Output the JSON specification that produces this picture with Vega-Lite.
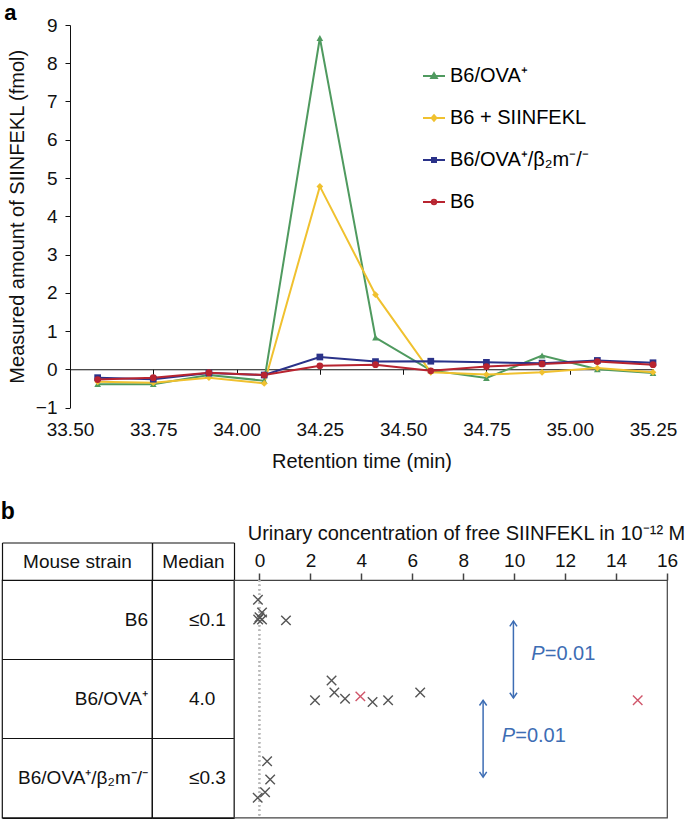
{
  "$schema": "https://vega.github.io/schema/vega-lite/v6.json",
  "padding": {"top": 1, "left": 0, "right": 0, "bottom": 0},
  "background": "white",
  "config": {
    "font": "Liberation Sans",
    "view": {"stroke": null},
    "concat": {"spacing": 0},
    "axis": {"labelColor": "#111", "titleColor": "#111", "domainColor": "#111", "tickColor": "#111", "titleFontWeight": "normal", "grid": false},
    "title": {"color": "#000"}
  },
  "resolve": {"scale": {"color": "independent", "shape": "independent"}, "legend": {"color": "independent", "shape": "independent"}},
  "datasets": {
    "chrom": [
      {"t": 33.583, "series": "B6/OVA⁺", "v": -0.39},
      {"t": 33.75, "series": "B6/OVA⁺", "v": -0.39},
      {"t": 33.917, "series": "B6/OVA⁺", "v": -0.15},
      {"t": 34.083, "series": "B6/OVA⁺", "v": -0.30},
      {"t": 34.25, "series": "B6/OVA⁺", "v": 8.66},
      {"t": 34.417, "series": "B6/OVA⁺", "v": 0.83},
      {"t": 34.583, "series": "B6/OVA⁺", "v": -0.03},
      {"t": 34.75, "series": "B6/OVA⁺", "v": -0.23},
      {"t": 34.917, "series": "B6/OVA⁺", "v": 0.36},
      {"t": 35.083, "series": "B6/OVA⁺", "v": 0.0},
      {"t": 35.25, "series": "B6/OVA⁺", "v": -0.10},
      {"t": 33.583, "series": "B6 + SIINFEKL", "v": -0.33},
      {"t": 33.75, "series": "B6 + SIINFEKL", "v": -0.35},
      {"t": 33.917, "series": "B6 + SIINFEKL", "v": -0.22},
      {"t": 34.083, "series": "B6 + SIINFEKL", "v": -0.37},
      {"t": 34.25, "series": "B6 + SIINFEKL", "v": 4.78},
      {"t": 34.417, "series": "B6 + SIINFEKL", "v": 1.95},
      {"t": 34.583, "series": "B6 + SIINFEKL", "v": -0.08},
      {"t": 34.75, "series": "B6 + SIINFEKL", "v": -0.14},
      {"t": 34.917, "series": "B6 + SIINFEKL", "v": -0.08},
      {"t": 35.083, "series": "B6 + SIINFEKL", "v": 0.03},
      {"t": 35.25, "series": "B6 + SIINFEKL", "v": -0.08},
      {"t": 33.583, "series": "B6/OVA⁺/β₂m⁻/⁻", "v": -0.22},
      {"t": 33.75, "series": "B6/OVA⁺/β₂m⁻/⁻", "v": -0.26},
      {"t": 33.917, "series": "B6/OVA⁺/β₂m⁻/⁻", "v": -0.10},
      {"t": 34.083, "series": "B6/OVA⁺/β₂m⁻/⁻", "v": -0.15},
      {"t": 34.25, "series": "B6/OVA⁺/β₂m⁻/⁻", "v": 0.32},
      {"t": 34.417, "series": "B6/OVA⁺/β₂m⁻/⁻", "v": 0.20},
      {"t": 34.583, "series": "B6/OVA⁺/β₂m⁻/⁻", "v": 0.21},
      {"t": 34.75, "series": "B6/OVA⁺/β₂m⁻/⁻", "v": 0.18},
      {"t": 34.917, "series": "B6/OVA⁺/β₂m⁻/⁻", "v": 0.16},
      {"t": 35.083, "series": "B6/OVA⁺/β₂m⁻/⁻", "v": 0.23},
      {"t": 35.25, "series": "B6/OVA⁺/β₂m⁻/⁻", "v": 0.17},
      {"t": 33.583, "series": "B6", "v": -0.27},
      {"t": 33.75, "series": "B6", "v": -0.22},
      {"t": 33.917, "series": "B6", "v": -0.09},
      {"t": 34.083, "series": "B6", "v": -0.15},
      {"t": 34.25, "series": "B6", "v": 0.09},
      {"t": 34.417, "series": "B6", "v": 0.12},
      {"t": 34.583, "series": "B6", "v": -0.04},
      {"t": 34.75, "series": "B6", "v": 0.07},
      {"t": 34.917, "series": "B6", "v": 0.14},
      {"t": 35.083, "series": "B6", "v": 0.20},
      {"t": 35.25, "series": "B6", "v": 0.12}
    ],
    "table": [
      {"strain": "B6", "median": "≤0.1"},
      {"strain": "B6/OVA⁺", "median": "4.0"},
      {"strain": "B6/OVA⁺/β₂m⁻/⁻", "median": "≤0.3"}
    ],
    "pts": [
      {"strain": "B6", "conc": -0.06, "pos": 0.25, "hl": "n"},
      {"strain": "B6", "conc": 0.10, "pos": 0.41, "hl": "n"},
      {"strain": "B6", "conc": 0.0, "pos": 0.47, "hl": "n"},
      {"strain": "B6", "conc": -0.05, "pos": 0.50, "hl": "n"},
      {"strain": "B6", "conc": 0.10, "pos": 0.50, "hl": "n"},
      {"strain": "B6", "conc": 1.04, "pos": 0.51, "hl": "n"},
      {"strain": "B6/OVA⁺", "conc": 2.83, "pos": 1.27, "hl": "n"},
      {"strain": "B6/OVA⁺", "conc": 2.18, "pos": 1.52, "hl": "n"},
      {"strain": "B6/OVA⁺", "conc": 2.94, "pos": 1.42, "hl": "n"},
      {"strain": "B6/OVA⁺", "conc": 3.36, "pos": 1.50, "hl": "n"},
      {"strain": "B6/OVA⁺", "conc": 3.96, "pos": 1.47, "hl": "y"},
      {"strain": "B6/OVA⁺", "conc": 4.44, "pos": 1.54, "hl": "n"},
      {"strain": "B6/OVA⁺", "conc": 5.05, "pos": 1.52, "hl": "n"},
      {"strain": "B6/OVA⁺", "conc": 6.31, "pos": 1.42, "hl": "n"},
      {"strain": "B6/OVA⁺", "conc": 14.85, "pos": 1.52, "hl": "y"},
      {"strain": "B6/OVA⁺/β₂m⁻/⁻", "conc": 0.30, "pos": 2.29, "hl": "n"},
      {"strain": "B6/OVA⁺/β₂m⁻/⁻", "conc": 0.42, "pos": 2.52, "hl": "n"},
      {"strain": "B6/OVA⁺/β₂m⁻/⁻", "conc": 0.22, "pos": 2.68, "hl": "n"},
      {"strain": "B6/OVA⁺/β₂m⁻/⁻", "conc": -0.07, "pos": 2.75, "hl": "n"}
    ],
    "arrows": [
      {"x": 9.97, "y1": 0.52, "y2": 1.49},
      {"x": 8.78, "y1": 1.52, "y2": 2.49}
    ],
    "heads": [
      {"x": 9.97, "y": 0.52, "dir": "up"},
      {"x": 9.97, "y": 1.49, "dir": "down"},
      {"x": 8.78, "y": 1.52, "dir": "up"},
      {"x": 8.78, "y": 2.49, "dir": "down"}
    ],
    "ptext": [
      {"x": 10.67, "y": 0.94, "p": "P", "rest": "=0.01"},
      {"x": 9.51, "y": 1.97, "p": "P", "rest": "=0.01"}
    ]
  },
  "spacing": 29,
  "vconcat": [
    {
      "spacing": 0,
      "resolve": {"scale": {"color": "independent", "shape": "independent"}, "legend": {"color": "independent", "shape": "independent"}},
      "hconcat": [
        {
          "width": 2, "height": 10,
          "data": {"values": [{"s": 1}]},
          "mark": {"type": "point", "opacity": 0, "size": 1}
        },
        {
          "title": {"text": "a", "anchor": "start", "frame": "bounds", "fontSize": 22, "fontWeight": "bold", "dx": -3, "offset": -8.5},
          "width": 583,
          "height": 382.5,
          "data": {"name": "chrom"},
          "resolve": {"scale": {"color": "independent", "shape": "independent"}, "legend": {"color": "independent", "shape": "independent"}},
          "encoding": {
            "x": {"field": "t", "type": "quantitative", "scale": {"domain": [33.5, 35.25], "nice": false, "zero": false},
              "axis": {"title": "Retention time (min)", "values": [33.5, 33.75, 34.0, 34.25, 34.5, 34.75, 35.0, 35.25], "format": ".2f", "offset": -38.25, "tickSize": 5, "labelPadding": 46, "titlePadding": 12, "labelFontSize": 19, "titleFontSize": 20, "labelFlush": false, "labelOverlap": false}},
            "y": {"field": "v", "type": "quantitative", "scale": {"domain": [-1, 9], "nice": false, "zero": false},
              "axis": {"title": "Measured amount of SIINFEKL (fmol)", "values": [-1, 0, 1, 2, 3, 4, 5, 6, 7, 8, 9], "tickSize": 5, "labelPadding": 8, "titlePadding": 8, "labelFontSize": 19, "titleFontSize": 20}}
          },
          "layer": [
            {
              "mark": {"type": "line", "strokeWidth": 2},
              "encoding": {
                "color": {"field": "series", "type": "nominal", "legend": null,
                  "scale": {"domain": ["B6/OVA⁺", "B6 + SIINFEKL", "B6/OVA⁺/β₂m⁻/⁻", "B6"], "range": ["#4f9a5f", "#f0c12f", "#2a3289", "#b82430"]}}
              }
            },
            {
              "mark": {"type": "point", "filled": true, "size": 45, "opacity": 1},
              "encoding": {
                "color": {"field": "series", "type": "nominal", "legend": null,
                  "scale": {"domain": ["B6/OVA⁺", "B6 + SIINFEKL", "B6/OVA⁺/β₂m⁻/⁻", "B6"], "range": ["#4f9a5f", "#f0c12f", "#2a3289", "#b82430"]}},
                "shape": {"field": "series", "type": "nominal", "legend": null,
                  "scale": {"domain": ["B6/OVA⁺", "B6 + SIINFEKL", "B6/OVA⁺/β₂m⁻/⁻", "B6"], "range": ["triangle-up", "diamond", "square", "circle"]}}
              }
            },
            {
              "transform": [{"filter": "false"}],
              "mark": {"type": "point", "filled": false, "size": 64, "opacity": 1, "strokeWidth": 2},
              "encoding": {
                "color": {"field": "series", "type": "nominal",
                  "scale": {"domain": ["B6/OVA⁺", "B6 + SIINFEKL", "B6/OVA⁺/β₂m⁻/⁻", "B6"], "range": ["#4f9a5f", "#f0c12f", "#2a3289", "#b82430"]},
                  "legend": {"orient": "none", "legendX": 354, "legendY": 41, "title": null, "labelFontSize": 20, "symbolSize": 64, "rowPadding": 22, "labelOffset": 6, "padding": 0, "symbolStrokeWidth": 2,
                    "encode": {
                      "labels": {"update": {"fill": {"signal": "datum.value === 'B6' ? '#b8262e' : datum.value === 'B6 + SIINFEKL' ? '#dc7a2e' : datum.value === 'B6/OVA⁺' ? '#4f9a5f' : '#2a3289'"}}}
                    }}},
                "shape": {"field": "series", "type": "nominal",
                  "scale": {"domain": ["B6/OVA⁺", "B6 + SIINFEKL", "B6/OVA⁺/β₂m⁻/⁻", "B6"], "range": ["M-2.75,0H2.75M0,-0.7L0.7,0.5L-0.7,0.5Z", "M-2.75,0H2.75M0,-0.7L0.6,0L0,0.7L-0.6,0Z", "M-2.75,0H2.75M-0.5,-0.5H0.5V0.5H-0.5Z", "M-2.75,0H2.75M0.55,0A0.55,0.55,0,1,1,-0.55,0A0.55,0.55,0,1,1,0.55,0Z"]},
                  "legend": {"orient": "none", "legendX": 354, "legendY": 41, "title": null, "labelFontSize": 20, "symbolSize": 64, "rowPadding": 22, "labelOffset": 6, "padding": 0, "symbolStrokeWidth": 2}}
              }
            }
          ]
        }
      ]
    },
    {
      "title": {"text": "b", "anchor": "start", "frame": "bounds", "fontSize": 23, "fontWeight": "bold", "offset": -2},
      "spacing": 0,
      "bounds": "flush",
      "hconcat": [
        {
          "width": 150, "height": 237.5,
          "data": {"name": "table"},
          "view": {"stroke": "#111", "strokeWidth": 1.2},
          "mark": {"type": "text", "fontSize": 19, "align": "right", "dx": -4, "color": "#111"},
          "encoding": {
            "x": {"datum": "Mouse strain", "type": "nominal", "bandPosition": 1, "scale": {"paddingInner": 0, "paddingOuter": 0},
              "axis": {"orient": "top", "title": null, "offset": 37.5, "tickBand": "extent", "tickSize": -37.5, "labelPadding": 18.75, "labelBaseline": "middle", "labelAngle": 0, "labelFontSize": 19, "domainWidth": 1.2, "tickWidth": 1.2}},
            "y": {"field": "strain", "type": "nominal", "sort": null, "scale": {"paddingInner": 0, "paddingOuter": 0},
              "axis": {"grid": true, "tickBand": "extent", "labels": false, "ticks": false, "domain": false, "title": null, "gridColor": "#111", "gridOpacity": 1, "gridWidth": 1.2}},
            "text": {"field": "strain"}
          }
        },
        {
          "width": 82, "height": 237.5,
          "data": {"name": "table"},
          "view": {"stroke": "#111", "strokeWidth": 1.2},
          "mark": {"type": "text", "fontSize": 19, "align": "left", "dx": -4, "color": "#111"},
          "encoding": {
            "x": {"datum": "Median", "type": "nominal", "bandPosition": 0.5, "scale": {"paddingInner": 0, "paddingOuter": 0},
              "axis": {"orient": "top", "title": null, "offset": 37.5, "tickBand": "extent", "tickSize": -37.5, "labelPadding": 18.75, "labelBaseline": "middle", "labelAngle": 0, "labelFontSize": 19, "domainWidth": 1.2, "tickWidth": 1.2}},
            "y": {"field": "strain", "type": "nominal", "sort": null, "scale": {"paddingInner": 0, "paddingOuter": 0},
              "axis": {"grid": true, "tickBand": "extent", "labels": false, "ticks": false, "domain": false, "title": null, "gridColor": "#111", "gridOpacity": 1, "gridWidth": 1.2}},
            "text": {"field": "median"}
          }
        },
        {
          "width": 433, "height": 237.5,
          "view": {"stroke": "#444", "strokeWidth": 1.2},
          "layer": [
            {
              "data": {"name": "pts"},
              "mark": {"type": "rule", "strokeDash": [1.5, 3], "color": "#bbbbbb", "strokeWidth": 1.2},
              "encoding": {
                "x": {"datum": 0, "type": "quantitative", "scale": {"domain": [-1, 16], "nice": false, "zero": false},
                  "axis": {"orient": "top", "title": "Urinary concentration of free SIINFEKL in 10⁻¹² M", "titleX": 232, "values": [0, 1, 2, 3, 4, 5, 6, 7, 8, 9, 10, 11, 12, 13, 14, 15, 16],
                    "labelExpr": "datum.value % 2 === 0 ? datum.label : ''", "tickSize": {"condition": {"test": "datum.value % 2 === 0", "value": 7}, "value": 4},
                    "labelPadding": 3, "titlePadding": 8, "labelFontSize": 19, "titleFontSize": 20, "labelFlush": false, "labelOverlap": false, "domainColor": "#444", "tickColor": "#444", "tickWidth": 1.5}}
              }
            },
            {
              "data": {"name": "pts"},
              "mark": {"type": "point", "shape": "M-1,-1L1,1M-1,1L1,-1", "filled": false, "size": 90, "strokeWidth": 1.4, "opacity": 1},
              "encoding": {
                "x": {"field": "conc", "type": "quantitative"},
                "y": {"field": "pos", "type": "quantitative", "scale": {"domain": [0, 3], "reverse": true, "nice": false, "zero": false}, "axis": null},
                "color": {"field": "hl", "type": "nominal", "scale": {"domain": ["n", "y"], "range": ["#555555", "#d0566a"]}, "legend": null}
              }
            },
            {
              "data": {"name": "arrows"},
              "mark": {"type": "rule", "color": "#3d6db4", "strokeWidth": 1.5},
              "encoding": {
                "x": {"field": "x", "type": "quantitative"},
                "y": {"field": "y1", "type": "quantitative"},
                "y2": {"field": "y2"}
              }
            },
            {
              "data": {"name": "heads"},
              "mark": {"type": "point", "filled": false, "size": 64, "strokeWidth": 1.5, "opacity": 1, "color": "#3d6db4"},
              "encoding": {
                "x": {"field": "x", "type": "quantitative"},
                "y": {"field": "y", "type": "quantitative"},
                "shape": {"field": "dir", "type": "nominal", "scale": {"domain": ["up", "down"], "range": ["M-0.9,1.3L0,0L0.9,1.3", "M-0.9,-1.3L0,0L0.9,-1.3"]}, "legend": null}
              }
            },
            {
              "data": {"name": "ptext"},
              "mark": {"type": "text", "align": "left", "fontSize": 20, "fontStyle": "italic", "color": "#3d6db4"},
              "encoding": {
                "x": {"field": "x", "type": "quantitative"},
                "y": {"field": "y", "type": "quantitative"},
                "text": {"field": "p"}
              }
            },
            {
              "data": {"name": "ptext"},
              "mark": {"type": "text", "align": "left", "fontSize": 20, "dx": 13.5, "color": "#3d6db4"},
              "encoding": {
                "x": {"field": "x", "type": "quantitative"},
                "y": {"field": "y", "type": "quantitative"},
                "text": {"field": "rest"}
              }
            }
          ]
        }
      ]
    }
  ]
}
